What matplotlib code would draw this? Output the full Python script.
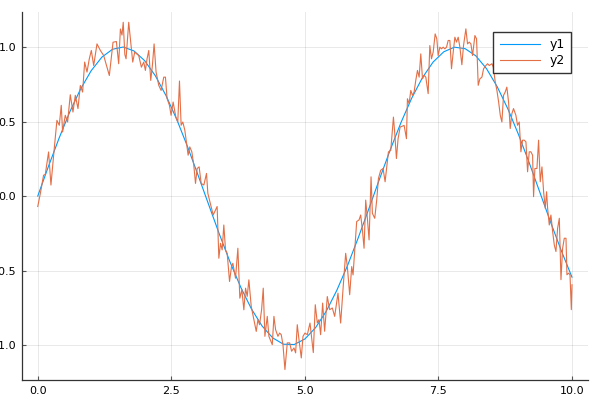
import numpy as np
import matplotlib
matplotlib.use("Agg")
import matplotlib.pyplot as plt

# smooth series y1, read at steps of 0.2 on the x axis
y1 = [0.000, 0.199, 0.389, 0.565, 0.717, 0.841, 0.932, 0.985, 1.000, 0.974,
      0.909, 0.808, 0.675, 0.516, 0.335, 0.141, -0.058, -0.256, -0.443, -0.612,
      -0.757, -0.872, -0.952, -0.994, -0.996, -0.959, -0.883, -0.773, -0.631, -0.465,
      -0.279, -0.083, 0.117, 0.312, 0.494, 0.657, 0.794, 0.899, 0.968, 0.999,
      0.989, 0.941, 0.855, 0.734, 0.585, 0.412, 0.223, 0.024, -0.175, -0.366,
      -0.544]
x1 = np.linspace(0, 10, len(y1))

# noisy series y2, vertices
x2 = [0.0, 0.05, 0.109, 0.141, 0.203, 0.247, 0.309, 0.359, 0.403, 0.44,
      0.465, 0.515, 0.559, 0.609, 0.659, 0.703, 0.753, 0.797, 0.84, 0.878,
      0.922, 0.965, 1.003, 1.047, 1.109, 1.172, 1.234, 1.34, 1.409, 1.472,
      1.515, 1.547, 1.577, 1.60, 1.63, 1.653, 1.703, 1.734, 1.778, 1.815,
      1.89, 1.94, 1.984, 2.015, 2.046, 2.078, 2.115, 2.146, 2.178, 2.215,
      2.265, 2.309, 2.359, 2.39, 2.421, 2.465, 2.496, 2.534, 2.584, 2.621,
      2.653, 2.684, 2.715, 2.753, 2.778, 2.815, 2.846, 2.884, 2.921, 2.953,
      2.984, 3.021, 3.059, 3.109, 3.159, 3.184, 3.221, 3.253, 3.284, 3.358,
      3.39, 3.421, 3.452, 3.483, 3.515, 3.546, 3.59, 3.627, 3.652, 3.702,
      3.746, 3.783, 3.821, 3.858, 3.89, 3.921, 3.952, 3.996, 4.046, 4.09,
      4.121, 4.152, 4.19, 4.221, 4.252, 4.296, 4.327, 4.39, 4.421, 4.452,
      4.496, 4.527, 4.558, 4.59, 4.627, 4.671, 4.715, 4.752, 4.796, 4.827,
      4.858, 4.89, 4.933, 4.965, 5.002, 5.046, 5.096, 5.158, 5.195, 5.233,
      5.264, 5.295, 5.333, 5.37, 5.42, 5.464, 5.514, 5.558, 5.62, 5.67,
      5.72, 5.764, 5.795, 5.839, 5.877, 5.902, 5.939, 5.97, 6.014, 6.045,
      6.077, 6.108, 6.139, 6.17, 6.202, 6.239, 6.264, 6.308, 6.345, 6.377,
      6.42, 6.464, 6.502, 6.533, 6.564, 6.608, 6.658, 6.683, 6.714, 6.745,
      6.783, 6.858, 6.902, 6.92, 6.951, 6.983, 7.014, 7.045, 7.076, 7.108,
      7.139, 7.17, 7.202, 7.233, 7.264, 7.308, 7.339, 7.37, 7.402, 7.439,
      7.47, 7.495, 7.527, 7.558, 7.589, 7.62, 7.652, 7.683, 7.714, 7.745,
      7.777, 7.808, 7.839, 7.87, 7.902, 7.939, 7.97, 8.014, 8.045, 8.077,
      8.108, 8.139, 8.183, 8.214, 8.245, 8.277, 8.314, 8.345, 8.389, 8.42,
      8.452, 8.502, 8.527, 8.564, 8.595, 8.627, 8.658, 8.688, 8.719, 8.75,
      8.781, 8.813, 8.844, 8.875, 8.906, 8.95, 8.981, 9.013, 9.044, 9.075,
      9.106, 9.138, 9.169, 9.2, 9.231, 9.263, 9.281, 9.306, 9.344, 9.375,
      9.406, 9.438, 9.469, 9.5, 9.525, 9.544, 9.575, 9.606, 9.638, 9.669,
      9.7, 9.731, 9.763, 9.794, 9.825, 9.856, 9.888, 9.906, 9.938, 9.963,
      9.988, 10.0]
y2 = [-0.07, 0.02, 0.14, 0.145, 0.296, 0.074, 0.319, 0.508, 0.475, 0.609,
      0.43, 0.542, 0.497, 0.68, 0.564, 0.676, 0.587, 0.742, 0.698, 0.899,
      0.832, 0.921, 0.977, 0.876, 1.021, 0.977, 0.943, 0.809, 1.032, 1.037,
      0.888, 1.121, 1.08, 1.166, 0.95, 0.921, 1.166, 1.055, 0.899, 0.966,
      0.943, 0.865, 0.899, 0.843, 0.921, 0.977, 0.776, 0.876, 1.021, 0.832,
      0.743, 0.709, 0.798, 0.798, 0.654, 0.609, 0.542, 0.631, 0.531, 0.497,
      0.772, 0.475, 0.497, 0.442, 0.375, 0.274, 0.33, 0.297, 0.207, 0.085,
      0.185, 0.196, 0.085, 0.074, 0.152, 0.018, -0.037, -0.082, -0.127, -0.07,
      -0.417, -0.317, -0.361, -0.194, -0.361, -0.384, -0.573, -0.473, -0.451, -0.551,
      -0.35, -0.685, -0.629, -0.763, -0.618, -0.673, -0.562, -0.74, -0.829, -0.908,
      -0.829, -0.863, -0.763, -0.618, -0.941, -0.807, -0.941, -0.997, -0.807, -0.896,
      -0.941, -0.919, -0.93, -0.997, -1.164, -0.985, -0.985, -1.041, -1.019, -1.052,
      -0.863, -0.963, -1.086, -0.941, -0.919, -0.93, -0.852, -1.05, -0.729, -0.851,
      -0.829, -0.93, -0.718, -0.907, -0.674, -0.762, -0.751, -0.807, -0.651, -0.852,
      -0.596, -0.384, -0.473, -0.662, -0.473, -0.529, -0.339, -0.171, -0.16, -0.127,
      -0.227, -0.35, -0.027, -0.149, -0.294, 0.129, -0.116, -0.149, -0.027, 0.118,
      0.173, 0.185, 0.096, 0.196, 0.296, 0.307, 0.53, 0.419, 0.252, 0.385,
      0.463, 0.474, 0.385, 0.653, 0.62, 0.709, 0.676, 0.698, 0.776, 0.843,
      0.798, 0.954, 0.787, 0.81, 0.798, 0.687, 1.01, 0.921, 0.966, 1.088,
      1.055, 0.943, 0.999, 0.988, 0.999, 0.988, 0.999, 1.044, 1.044, 0.854,
      0.966, 1.066, 1.033, 1.066, 0.999, 0.881, 1.01, 1.122, 1.021, 1.033,
      1.021, 0.943, 1.077, 1.055, 0.743, 0.787, 0.798, 0.854, 0.876, 0.888,
      0.876, 0.888, 0.865, 0.765, 0.709, 0.631, 0.542, 0.497, 0.676, 0.698,
      0.731, 0.631, 0.453, 0.553, 0.587, 0.542, 0.475, 0.497, 0.297, 0.375,
      0.375, 0.364, 0.163, 0.297, 0.297, 0.274, -0.004, 0.185, 0.185, 0.375,
      0.096, 0.196, 0.029, -0.082, 0.029, -0.082, -0.194, -0.127, -0.238, -0.328,
      -0.372, -0.216, -0.149, -0.561, -0.35, -0.283, -0.283, -0.528, -0.517, -0.528,
      -0.762, -0.595]

xticks = [0.0, 2.5, 5.0, 7.5, 10.0]
yticks = [-1.0, -0.5, 0.0, 0.5, 1.0]

fig = plt.figure(figsize=(6, 4), dpi=100)
ax = fig.add_axes([0.0362, 0.05, 0.9438, 0.92])

ax.plot(x1, y1, color='#009AFA', lw=0.8, label='y1')
ax.plot(x2, y2, color='#E36F47', lw=0.8, label='y2')

ax.set_xlim(-0.3, 10.3)
ax.set_ylim(-1.234, 1.235)
ax.set_xticks(xticks)
ax.set_yticks(yticks)
ax.set_xticklabels(['%.1f' % v for v in xticks])
ax.set_yticklabels(['%.1f' % v for v in yticks])

ax.grid(True, color='black', alpha=0.1, lw=0.6)
ax.set_axisbelow(True)
for s in ['top', 'right']:
    ax.spines[s].set_visible(False)
for s in ['left', 'bottom']:
    ax.spines[s].set_color('#333333')
    ax.spines[s].set_linewidth(0.9)
ax.tick_params(direction='in', length=3, width=0.8, color='#555555',
               labelsize=8, pad=4)

leg = ax.legend(loc='upper right', bbox_to_anchor=(0.970, 0.946), borderaxespad=0,
                fontsize=9, fancybox=False, framealpha=1, handlelength=3.2,
                borderpad=0.5, labelspacing=0.25)
leg.get_frame().set_edgecolor('#333333')
leg.get_frame().set_linewidth(1.0)

fig.savefig('out.png', dpi=100)
